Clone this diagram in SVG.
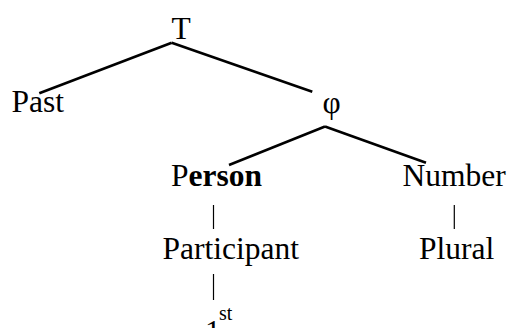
<svg xmlns="http://www.w3.org/2000/svg" width="510" height="328" viewBox="0 0 510 328">
<style>
text{font-family:"Liberation Serif","Times New Roman",serif;font-size:31.5px;fill:#000}
.b{stroke:#000;stroke-width:2.6;stroke-linecap:butt}
.v{stroke:#000;stroke-width:1.2}
.bold{font-weight:bold}
.sup{font-size:20px}
</style>
<rect width="510" height="328" fill="#fff"/>
<g id="connectors">
<line class="b" x1="171.7" y1="42.7" x2="39.3" y2="93.3"/>
<line class="b" x1="171.7" y1="42.7" x2="312.3" y2="91.7"/>
<line class="b" x1="325" y1="126.5" x2="229" y2="165"/>
<line class="b" x1="325" y1="126.5" x2="426" y2="162.7"/>
<line class="v" x1="213.5" y1="205" x2="213.5" y2="229"/>
<line class="v" x1="454.3" y1="205" x2="454.3" y2="229"/>
<line class="v" x1="213.5" y1="274" x2="213.5" y2="300"/>
</g>
<g id="node-T"><text x="181" y="39" text-anchor="middle">T</text></g>
<g id="node-Past"><text x="11.5" y="112">Past</text></g>
<g id="node-phi"><text x="331.5" y="113" text-anchor="middle">φ</text></g>
<g id="node-Person"><text x="171" y="186">P<tspan class="bold">erson</tspan></text></g>
<g id="node-Number"><text x="402.5" y="186">Number</text></g>
<g id="node-Participant"><text x="162.5" y="259">Participant</text></g>
<g id="node-Plural"><text x="419" y="259">Plural</text></g>
<g id="node-1st"><text x="205" y="341.5">1</text><text class="sup" x="219" y="320">st</text></g>
</svg>
